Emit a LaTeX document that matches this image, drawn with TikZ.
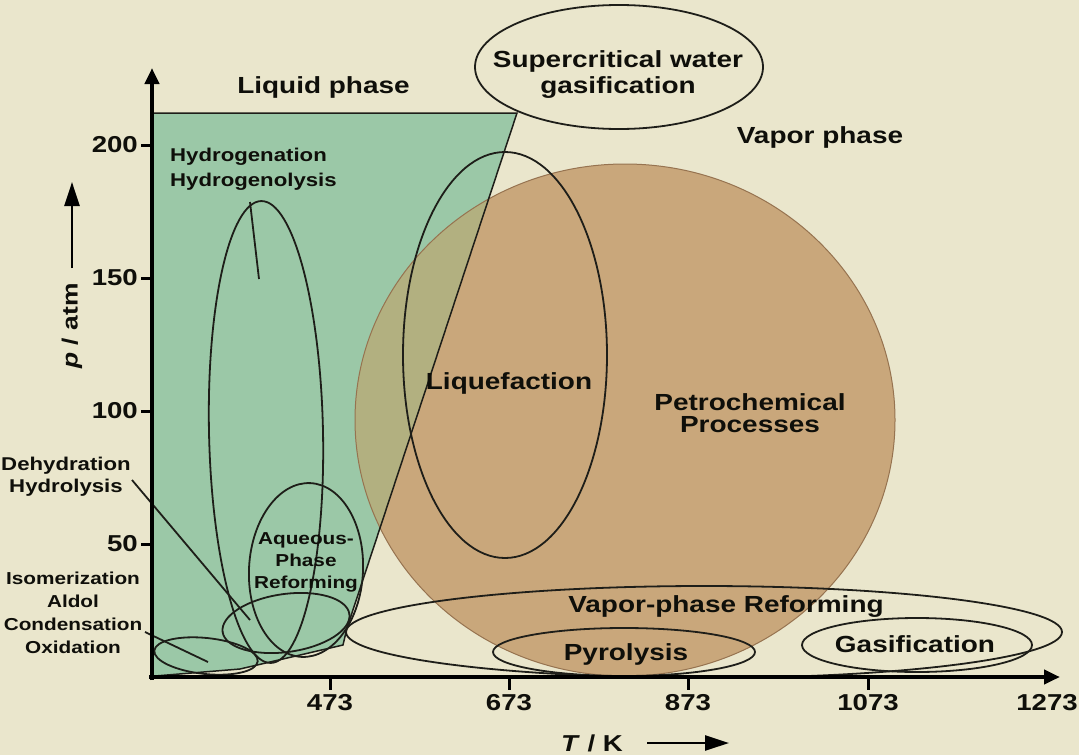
\documentclass[tikz,border=0pt]{standalone}
\usepackage{fontspec}
\setmainfont{Liberation Sans}[FakeStretch=1.2]
\usetikzlibrary{arrows.meta}
\definecolor{bg}{RGB}{234,230,204}
\definecolor{greenf}{RGB}{155,200,167}
\definecolor{brownf}{RGB}{201,167,123}
\definecolor{olivef}{RGB}{178,176,128}
\definecolor{brownedge}{RGB}{150,115,80}
\definecolor{lc}{RGB}{30,30,25}
\definecolor{txt}{RGB}{15,15,10}
\begin{document}
\begin{tikzpicture}[x=1pt,y=-1pt,
  proc/.style={draw=lc, line width=1.8pt},
  lead/.style={draw=lc, line width=1.8pt},
  axisline/.style={draw=black, line width=4.5pt, -{Triangle[length=16pt,width=14pt]}},
  tickline/.style={draw=black, line width=3pt},
  unitarrow/.style={draw=black, line width=2.6pt, -{Triangle[length=24pt,width=15pt]}},
  big/.style={font=\fontsize{23.3}{26}\selectfont\bfseries, inner sep=0pt, text=txt},
  bigtight/.style={font=\fontsize{23.3}{22.5}\selectfont\bfseries, inner sep=0pt, text=txt},
  med/.style={font=\fontsize{18.5}{25}\selectfont\bfseries, inner sep=0pt, text=txt},
  medd/.style={font=\fontsize{18.5}{22}\selectfont\bfseries, inner sep=0pt, text=txt},
  sml/.style={font=\fontsize{17.3}{22}\selectfont\bfseries, inner sep=0pt, text=txt},
  smll/.style={font=\fontsize{17.3}{23}\selectfont\bfseries, inner sep=0pt, text=txt},
  ticklab/.style={font=\fontsize{23}{26}\selectfont\bfseries, inner sep=0pt, text=txt}]
\useasboundingbox (0,0) rectangle (1079,755);
\fill[bg] (0,0) rectangle (1079,755);
% liquid region
\fill[greenf] (152,113) -- (517,113) -- (347,628) -- (343,645) -- (240,669) -- (155,676) -- (152,676) -- cycle;
% petrochemical region
\fill[brownf] (625,420) ellipse [x radius=270, y radius=256];
\begin{scope}
  \clip (152,113) -- (517,113) -- (347,628) -- (343,645) -- (240,669) -- (155,676) -- (152,676) -- cycle;
  \fill[olivef] (625,420) ellipse [x radius=270, y radius=256];
\end{scope}
\draw[brownedge, line width=1pt] (625,420) ellipse [x radius=270, y radius=256];
\draw[lc, line width=1.5pt] (152,113) -- (517,113) -- (347,628) -- (343,645) -- (240,669) -- (155,676);
% process ellipses
\draw[proc] (619,67) ellipse [x radius=144, y radius=62];
\draw[proc] (505,355) ellipse [x radius=102, y radius=203];
\draw[proc, rotate around={1.2:(266,432)}] (266,432) ellipse [x radius=57, y radius=231];
\draw[proc, rotate around={-3:(306,570)}] (306,570) ellipse [x radius=57, y radius=87];
\draw[proc, rotate around={8:(286,623)}] (286,623) ellipse [x radius=64, y radius=29];
\draw[proc, rotate around={-6:(206,656)}] (206,656) ellipse [x radius=52, y radius=18];
\draw[proc] (704,632) ellipse [x radius=358, y radius=46];
\draw[proc] (624,652) ellipse [x radius=131, y radius=24];
\draw[proc] (917,645) ellipse [x radius=115, y radius=27];
% leader lines
\coordinate (hA) at (250,202); \coordinate (hB) at (259,279);
\coordinate (dA) at (132,480); \coordinate (dB) at (250,620);
\coordinate (iA) at (145,632); \coordinate (iB) at (208,662);
\draw[lead] (hA) -- (hB);
\draw[lead] (dA) -- (dB);
\draw[lead] (iA) -- (iB);
% axes
\coordinate (O) at (152,680);
\coordinate (Oy) at (152,677);
\coordinate (Ox) at (149,677);
\coordinate (ytop) at (152,68);
\coordinate (xend) at (1060,677);
\draw[tickline] (141,145) -- (152,145);
\draw[tickline] (141,278) -- (152,278);
\draw[tickline] (141,411) -- (152,411);
\draw[tickline] (141,544) -- (152,544);
\draw[tickline] (330,677) -- (330,690);
\draw[tickline] (509,677) -- (509,690);
\draw[tickline] (688,677) -- (688,690);
\draw[tickline] (868,677) -- (868,690);
\draw[axisline] (O) -- (ytop);
\draw[axisline] (Ox) -- (xend);
% tick labels
\node[ticklab, anchor=east] (y200) at (138,145) {200};
\node[ticklab, anchor=east] (y150) at (138,278) {150};
\node[ticklab, anchor=east] (y100) at (138,411) {100};
\node[ticklab, anchor=east] (y50) at (138,544) {50};
\node[ticklab] (x473) at (330,703) {473};
\node[ticklab] (x673) at (509,703) {673};
\node[ticklab] (x873) at (688,703) {873};
\node[ticklab] (x1073) at (868,703) {1073};
\node[ticklab] (x1273) at (1047,703) {1273};
% axis titles
\node[ticklab, font=\fontsize{22}{24}\selectfont\bfseries, rotate=90] (plab) at (72,326) {\textit{p} / atm};
\coordinate (pA) at (72,268); \coordinate (pB) at (72,182);
\draw[unitarrow] (pA) -- (pB);
\node[ticklab] (tlab) at (592,743) {\textit{T} / K};
\coordinate (tA) at (647,743); \coordinate (tB) at (729,743);
\draw[unitarrow] (tA) -- (tB);
% labels
\node[big, anchor=north] (liquid) at (323.5,76) {Liquid phase};
\node[big, anchor=north] (vapor) at (820,126) {Vapor phase};
\node[big, anchor=north, align=center] (scw) at (618,50) {Supercritical water\\gasification};
\node[med, anchor=north west, align=left] (hydro) at (170,148) {Hydrogenation\\Hydrogenolysis};
\node[big, anchor=north] (liquef) at (509,372) {Liquefaction};
\node[bigtight, anchor=north, align=center] (petro) at (750,393) {Petrochemical\\Processes};
\node[medd, anchor=north, align=center] (dehyd) at (66,457) {Dehydration\\Hydrolysis};
\node[sml, anchor=north, align=center] (aqueous) at (306,532) {Aqueous-\\Phase\\Reforming};
\node[smll, anchor=north, align=center] (isom) at (73,572) {Isomerization\\Aldol\\Condensation\\Oxidation};
\node[big, anchor=north] (vpr) at (726,595) {Vapor-phase Reforming};
\node[big, anchor=north] (pyro) at (626,643) {Pyrolysis};
\node[big, anchor=north] (gasif) at (915,635) {Gasification};
\end{tikzpicture}
\end{document}
